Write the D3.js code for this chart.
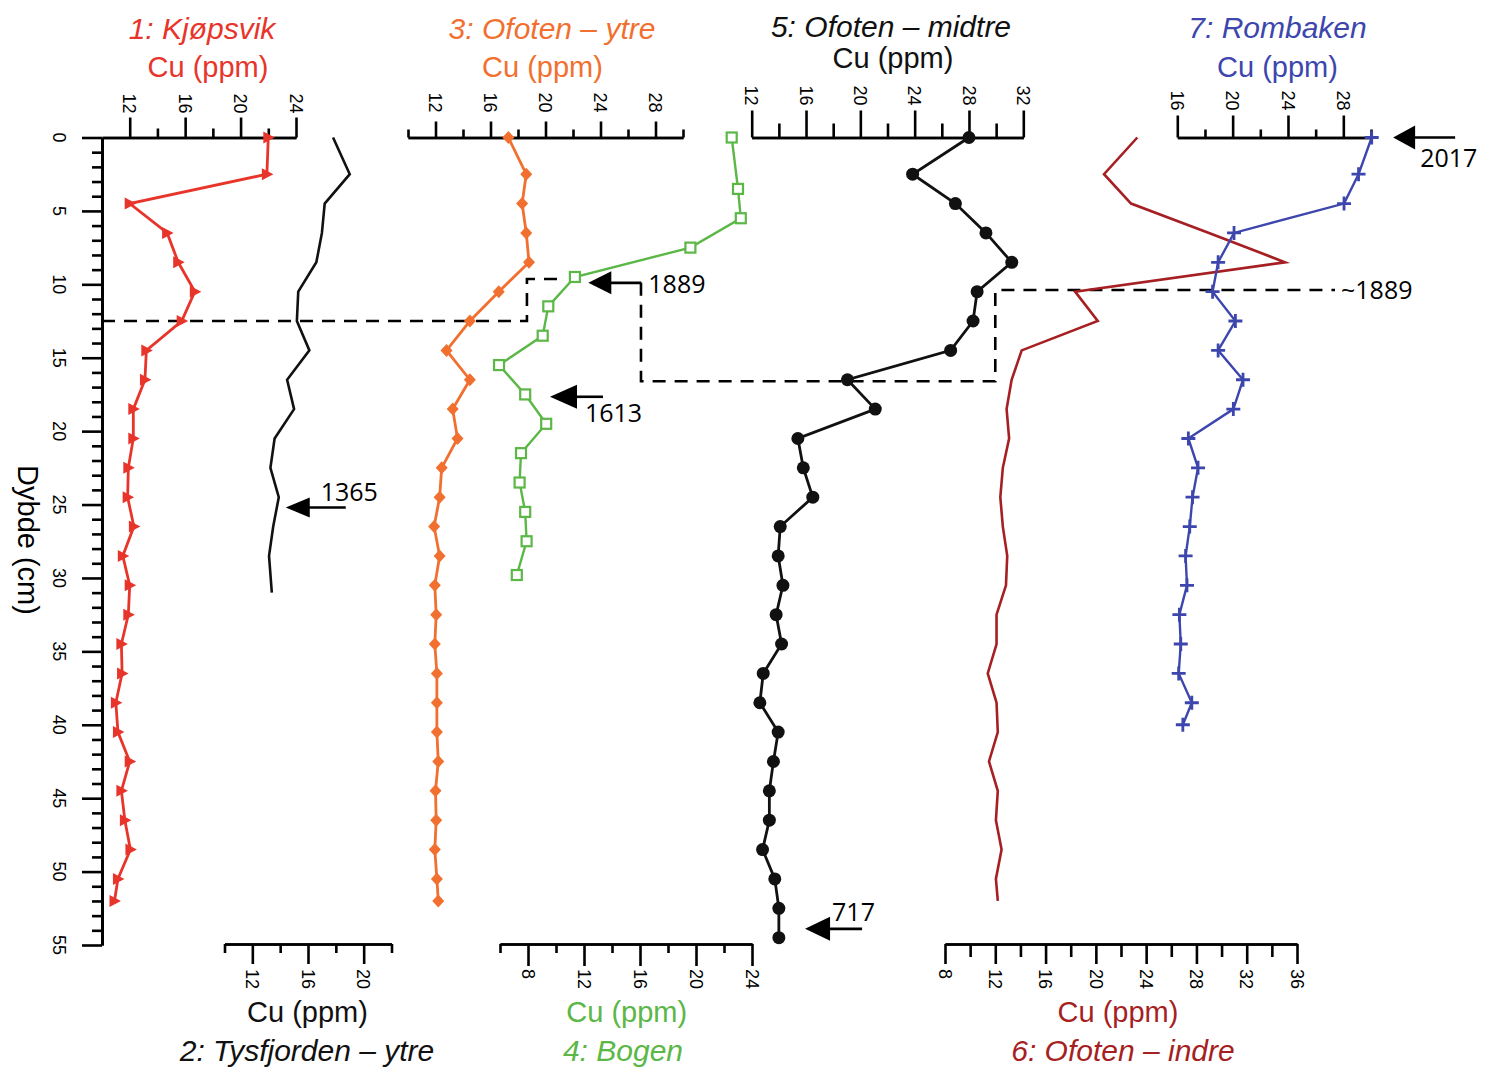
<!DOCTYPE html>
<html><head><meta charset="utf-8">
<script src="https://cdn.jsdelivr.net/npm/d3@7"></script>
<style>body{margin:0;background:#fff}</style>
</head><body>
<svg id="c" width="1487" height="1073" xmlns="http://www.w3.org/2000/svg"></svg>
<script>
// ---------------- DATA ----------------
const depthKjopsvik = [0,2.5,4.5,6.5,8.5,10.5,12.5,14.5,16.5,18.5,20.5,22.5,24.5,26.5,28.5,30.5,32.5,34.5,36.5,38.5,40.5,42.5,44.5,46.5,48.5,50.5,52];
const cuKjopsvik    = [22.0,21.9,12.0,14.7,15.5,16.7,15.75,13.2,13.1,12.26,12.26,11.9,11.85,12.3,11.5,12.0,11.9,11.4,11.45,11.0,11.15,12.0,11.4,11.65,12.05,11.15,10.9];

const depthTysfjorden = [0,2.5,4.5,6.5,8.5,10.5,12.5,14.5,16.5,18.5,20.5,22.5,24.5,26.5,28.5,31];
const cuTysfjorden    = [17.8,19.0,17.2,17.0,16.6,15.3,15.2,16.1,14.5,15.0,13.6,13.3,13.9,13.5,13.2,13.4];

const depthOfotenYtre = [0,2.5,4.5,6.5,8.5,10.5,12.5,14.5,16.5,18.5,20.5,22.5,24.5,26.5,28.5,30.5,32.5,34.5,36.5,38.5,40.5,42.5,44.5,46.5,48.5,50.5,52];
const cuOfotenYtre    = [17.3,18.6,18.3,18.6,18.8,16.6,14.5,12.8,14.5,13.25,13.6,12.45,12.3,11.9,12.3,11.95,12.05,11.95,12.1,12.1,12.1,12.2,12.0,12.05,11.95,12.1,12.2];

const depthBogen = [0,3.5,5.5,7.5,9.5,11.5,13.5,15.5,17.5,19.5,21.5,23.5,25.5,27.5,29.8];
const cuBogen    = [22.55,23.0,23.2,19.6,11.35,9.45,9.05,5.93,7.8,9.3,7.5,7.4,7.8,7.9,7.2];

const depthOfotenMidtre = [0,2.5,4.5,6.5,8.5,10.5,12.5,14.5,16.5,18.5,20.5,22.5,24.5,26.5,28.5,30.5,32.5,34.5,36.5,38.5,40.5,42.5,44.5,46.5,48.5,50.5,52.5,54.5];
const cuOfotenMidtre    = [28.0,23.85,27.0,29.25,31.15,28.6,28.3,26.65,19.05,21.1,15.4,15.8,16.5,14.1,13.95,14.3,13.8,14.2,12.85,12.6,13.95,13.6,13.3,13.3,12.8,13.7,14.0,14.0];

const depthOfotenIndre = [0,2.5,4.5,6.5,8.5,10.5,12.5,14.5,16.5,18.5,20.5,22.5,24.5,26.5,28.5,30.5,32.5,34.5,36.5,38.5,40.5,42.5,44.5,46.5,48.5,50.5,52];
const cuOfotenIndre    = [23.3,20.65,22.8,29.0,35.05,18.35,20.15,14.1,13.3,12.9,13.1,12.6,12.4,12.6,12.95,12.85,12.1,12.1,11.4,12.1,12.2,11.5,12.2,12.05,12.5,12.05,12.2];

const depthRombaken = [0,2.5,4.5,6.5,8.5,10.5,12.5,14.5,16.5,18.5,20.5,22.5,24.5,26.5,28.5,30.5,32.5,34.5,36.5,38.5,40];
const cuRombaken    = [30.05,29.1,28.05,20.1,18.95,18.55,20.2,18.95,20.75,20.05,16.8,17.5,17.1,16.9,16.6,16.7,16.15,16.25,16.1,17.05,16.4];

// axis ticks
const depthMajorTicks = [0,5,10,15,20,25,30,35,40,45,50,55];
const depthMinorTicks = d3.range(0,56).filter(v => v % 5 !== 0);
const ticksKjopsvik   = {major:[12,16,20,24], minor:[14,18,22]};
const ticksTysfjorden = {major:[12,16,20], minor:[10,14,18,22]};
const ticksYtre       = {major:[12,16,20,24,28], minor:[10,14,18,22,26,30]};
const ticksBogen      = {major:[8,12,16,20,24], minor:[6,10,14,18,22]};
const ticksMidtre     = {major:[12,16,20,24,28,32], minor:[14,18,22,26,30]};
const ticksIndre      = {major:[8,12,16,20,24,28,32,36], minor:[10,14,18,22,26,30,34]};
const ticksRombaken   = {major:[16,20,24,28], minor:[18,22,26,30]};

// annotations: year markers (panel, Cu value, depth)
const yearArrows = [
  {label:"1365", panel:"tys", value:14.4,  depth:25.2},
  {label:"1613", panel:"bog", value:9.57,  depth:17.66},
  {label:"1889", panel:"bog", value:12.31, depth:9.9},
  {label:"717",  panel:"mid", value:15.93, depth:53.9},
  {label:"2017", panel:"rom", value:31.6,  depth:0}
];
const dashedA = [["kj",10,12.5],["ytr",18.65,12.5],["ytr",18.65,9.64],["ytr",21.4,9.64]];
const dashedB = [["bog",16.07,9.9],["bog",16.07,16.6],["ind",12,16.6],["ind",12,10.39],["rom",27.4,10.39]];

// ---------------- LAYOUT ----------------
const svg = d3.select('#c');
const FONT = "'Liberation Sans', Arial, Helvetica, sans-serif";
const NOTE_FONT = "'Open Sans', 'DejaVu Sans', sans-serif";
const C = {red:'#e8352b', orange:'#f1702f', green:'#5bb746', black:'#111', darkred:'#a51f23', blue:'#3d46ad'};

const yScale = d3.scaleLinear().domain([0,55]).range([137.5,945]);
const S = {
  kj:  d3.scaleLinear().domain([10,24]).range([102,296]),
  tys: d3.scaleLinear().domain([10,22]).range([224.5,391.5]),
  ytr: d3.scaleLinear().domain([10,30]).range([408,683]),
  bog: d3.scaleLinear().domain([6,24]).range([500,752]),
  mid: d3.scaleLinear().domain([12,32]).range([751.7,1023.3]),
  ind: d3.scaleLinear().domain([8,36]).range([945,1297]),
  rom: d3.scaleLinear().domain([16,30]).range([1177.3,1371])
};

function styleAxis(g, w){
  g.selectAll('path.domain').attr('stroke','#000').attr('stroke-width',w);
  g.selectAll('.tick line').attr('stroke','#000').attr('stroke-width',w);
  g.selectAll('.tick text').remove();
}

function xAxis(key, ticks, orient, y, majLen, minLen, gap){
  const sc = S[key];
  const gen = orient === 'top' ? d3.axisTop : d3.axisBottom;
  const g = svg.append('g').attr('transform',`translate(0,${y})`);
  const gm = g.append('g').call(gen(sc).tickValues(ticks.minor).tickSize(minLen).tickSizeOuter(0).tickFormat(''));
  const gM = g.append('g').call(gen(sc).tickValues(ticks.major).tickSize(majLen).tickSizeOuter(0));
  styleAxis(gm, 2.6); styleAxis(gM, 2.6);
  ticks.major.forEach(v => {
    const x = sc(v), ly = orient === 'top' ? y - gap : y + gap;
    svg.append('text').attr('x',x).attr('y',ly)
      .attr('transform',`rotate(90,${x},${ly})`)
      .attr('text-anchor', orient === 'top' ? 'end' : 'start')
      .attr('dy','0.35em')
      .attr('font-family',FONT).attr('font-size',18).attr('fill','#000')
      .text(v);
  });
}

// Y axis
(function(){
  const g = svg.append('g').attr('transform','translate(102,0)');
  const gm = g.append('g').call(d3.axisLeft(yScale).tickValues(depthMinorTicks).tickSize(10).tickSizeOuter(0).tickFormat(''));
  const gM = g.append('g').call(d3.axisLeft(yScale).tickValues(depthMajorTicks).tickSize(20).tickSizeOuter(0));
  styleAxis(gm, 2.6); styleAxis(gM, 2.6);
  g.selectAll('path.domain').attr('stroke-width',3);
  depthMajorTicks.forEach(v => {
    const y = yScale(v);
    svg.append('text').attr('x',59).attr('y',y)
      .attr('transform',`rotate(90,59,${y})`)
      .attr('text-anchor','middle').attr('dy','0.35em')
      .attr('font-family',FONT).attr('font-size',18).attr('fill','#000').text(v);
  });
  svg.append('text').attr('x',28).attr('y',540)
    .attr('transform','rotate(90,28,540)')
    .attr('text-anchor','middle').attr('dy','0.35em')
    .attr('font-family',FONT).attr('font-size',29).attr('fill','#000').text('Dybde (cm)');
})();

// X axes
xAxis('kj',  ticksKjopsvik,   'top',    137.5, 20, 9, 24);
xAxis('ytr', ticksYtre,       'top',    137.5, 16, 8, 25);
xAxis('mid', ticksMidtre,     'top',    137.5, 27, 14, 32);
xAxis('rom', ticksRombaken,   'top',    137.5, 22, 8, 27);
xAxis('tys', ticksTysfjorden, 'bottom', 944, 20, 9, 25);
xAxis('bog', ticksBogen,      'bottom', 944, 22, 9, 25);
xAxis('ind', ticksIndre,      'bottom', 944, 20, 13, 25);

// Titles
function txt(x,y,s,color,size,italic){
  svg.append('text').attr('x',x).attr('y',y).attr('text-anchor','middle')
    .attr('font-family',FONT).attr('font-size',size).attr('fill',color)
    .attr('font-style', italic ? 'italic' : 'normal').text(s);
}
txt(202,39,'1: Kjøpsvik',C.red,30,true);           txt(208,77,'Cu (ppm)',C.red,29,false);
txt(552,39,'3: Ofoten – ytre',C.orange,30,true);   txt(542.5,77,'Cu (ppm)',C.orange,29,false);
txt(891,37,'5: Ofoten – midtre','#111',30,true);   txt(893,68,'Cu (ppm)','#111',29,false);
txt(1277.5,38,'7: Rombaken',C.blue,30,true);       txt(1277.5,77,'Cu (ppm)',C.blue,29,false);
txt(307.5,1022,'Cu (ppm)','#111',29,false);        txt(307,1061,'2: Tysfjorden – ytre','#111',30,true);
txt(626.7,1022,'Cu (ppm)',C.green,29,false);       txt(623,1061,'4: Bogen',C.green,30,true);
txt(1118,1022,'Cu (ppm)',C.darkred,29,false);      txt(1123,1061,'6: Ofoten – indre',C.darkred,30,true);

// Dashed lines
function dashed(list){
  const pts = list.map(p => [S[p[0]](p[1]), yScale(p[2])]);
  svg.append('path').attr('d', d3.line()(pts)).attr('fill','none')
    .attr('stroke','#000').attr('stroke-width',2.6).attr('stroke-dasharray','13,9');
}
dashed(dashedA); dashed(dashedB);

// Series
function series(key, depths, values, color, width, marker){
  const sc = S[key];
  const pts = depths.map((d,i) => [sc(values[i]), yScale(d)]);
  svg.append('path').attr('d', d3.line()(pts)).attr('fill','none')
    .attr('stroke',color).attr('stroke-width',width).attr('stroke-linejoin','miter');
  if (!marker) return;
  const g = svg.append('g');
  pts.forEach(([x,y]) => {
    if (marker === 'tri') g.append('path').attr('d','M-5,-6L6.5,0L-5,6Z').attr('transform',`translate(${x},${y})`).attr('fill',color);
    else if (marker === 'diamond') g.append('path').attr('d','M0,-6.5L6,0L0,6.5L-6,0Z').attr('transform',`translate(${x},${y})`).attr('fill',color);
    else if (marker === 'square') g.append('rect').attr('x',x-5).attr('y',y-5).attr('width',10).attr('height',10).attr('fill','#fff').attr('stroke',color).attr('stroke-width',2.2);
    else if (marker === 'circle') g.append('circle').attr('cx',x).attr('cy',y).attr('r',6.5).attr('fill',color);
    else if (marker === 'plus') g.append('path').attr('d',`M${x-7},${y}H${x+7}M${x},${y-7}V${y+7}`).attr('stroke',color).attr('stroke-width',2.8);
  });
}
series('tys', depthTysfjorden, cuTysfjorden, '#111', 2.6, null);
series('ind', depthOfotenIndre, cuOfotenIndre, C.darkred, 2.6, null);
series('kj',  depthKjopsvik, cuKjopsvik, C.red, 2.8, 'tri');
series('ytr', depthOfotenYtre, cuOfotenYtre, C.orange, 2.8, 'diamond');
series('bog', depthBogen, cuBogen, C.green, 2.4, 'square');
series('mid', depthOfotenMidtre, cuOfotenMidtre, '#111', 2.8, 'circle');
series('rom', depthRombaken, cuRombaken, C.blue, 2.4, 'plus');

// Year arrows
const arrowGeom = {
  "1365": {shaft:60, head:24, half:10, tx:35, ty:-6},
  "1613": {shaft:53, head:27, half:12, tx:35, ty:25},
  "1889": {shaft:53, head:23, half:11.5, tx:60, ty:10},
  "717":  {shaft:57, head:25, half:12, tx:27, ty:-7.5},
  "2017": {shaft:62, head:22, half:12, tx:27, ty:29}
};
yearArrows.forEach(a => {
  const x = S[a.panel](a.value), y = yScale(a.depth), g = arrowGeom[a.label];
  svg.append('path').attr('d',`M${x},${y}L${x+g.head},${y-g.half}L${x+g.head},${y+g.half}Z`).attr('fill','#000');
  svg.append('path').attr('d',`M${x+g.head-2},${y}H${x+g.shaft}`).attr('stroke','#000').attr('stroke-width',2.6);
  svg.append('text').attr('x',x+g.tx).attr('y',y+g.ty)
    .attr('font-family',NOTE_FONT).attr('font-size',25).attr('fill','#000').text(a.label);
});
// ~1889 label at end of dashed line
(function(){
  const last = dashedB[dashedB.length-1];
  svg.append('text').attr('x',S[last[0]](last[1])+6).attr('y',yScale(last[2])+9)
    .attr('font-family',NOTE_FONT).attr('font-size',25).attr('fill','#000').text('~1889');
})();
</script>
</body></html>
